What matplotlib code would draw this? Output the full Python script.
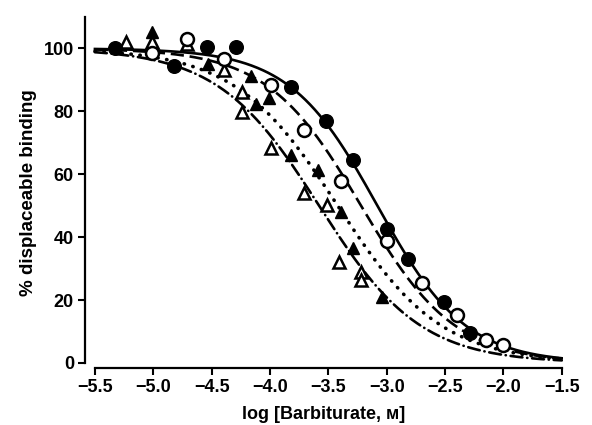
import numpy as np
import matplotlib
matplotlib.use("Agg")
import matplotlib.pyplot as plt

plt.rcParams['font.family'] = ['Liberation Sans', 'DejaVu Sans']

# ---- data ----
fc_x = [-5.33, -4.82, -4.54, -4.29, -3.82, -3.52, -3.29, -3.00, -2.82, -2.51, -2.29]
fc_y = [100.3, 94.3, 100.6, 100.6, 87.6, 76.8, 64.6, 42.7, 33.1, 19.4, 9.6]

oc_x = [-5.01, -4.71, -4.39, -3.99, -3.71, -3.39, -3.00, -2.70, -2.40, -2.15, -2.00]
oc_y = [98.7, 102.9, 96.5, 88.5, 74.2, 58.0, 38.9, 25.5, 15.3, 7.3, 5.7]

ft_x = [-5.01, -4.53, -4.16, -4.12, -4.01, -3.82, -3.59, -3.39, -3.29, -3.04]
ft_y = [105.1, 95.2, 91.2, 82.2, 84.4, 66.2, 61.5, 48.1, 36.6, 21.0]

ot_x = [-5.23, -5.01, -4.71, -4.39, -4.24, -4.24, -3.99, -3.71, -3.51, -3.41, -3.22, -3.22]
ot_y = [101.9, 101.9, 101.3, 93.3, 86.0, 79.9, 68.5, 54.1, 50.3, 32.2, 29.0, 26.4]

# fitted curve parameters (log IC50, Hill slope)
curve_ic50 = [-3.08, -3.22, -3.42, -3.58]
curve_hill = [1.15, 1.08, 0.98, 1.0]

xticks = [-5.5, -5.0, -4.5, -4.0, -3.5, -3.0, -2.5, -2.0, -1.5]
yticks = [0, 20, 40, 60, 80, 100]

fig = plt.figure(figsize=(5.92, 4.25), dpi=100)
ax = fig.add_axes([85/592, 1-368/425, (563-85)/592, (368-17)/425])

xs = np.linspace(-5.5, -1.5, 400)
styles = [dict(ls='-', lw=1.9),
          dict(ls=(0, (5, 2.2)), lw=1.9),
          dict(ls=(0, (0.1, 2.4)), lw=2.6, dash_capstyle='round'),
          dict(ls=(0, (4.5, 1.8, 0.1, 1.8)), lw=1.9, dash_capstyle='round')]
for ic, h, st in zip(curve_ic50, curve_hill, styles):
    ys = 100.0 / (1 + 10 ** (h * (xs - ic)))
    ax.plot(xs, ys, color='black', zorder=2, **st)

ax.plot(ot_x, ot_y, ls='none', marker='^', ms=8, mfc='white', mec='black', mew=1.8, zorder=3)
ax.plot(ft_x, ft_y, ls='none', marker='^', ms=8.5, mfc='black', mec='black', mew=1, zorder=3)
ax.plot(oc_x, oc_y, ls='none', marker='o', ms=9.3, mfc='white', mec='black', mew=1.8, zorder=4)
ax.plot(fc_x, fc_y, ls='none', marker='o', ms=9.8, mfc='black', mec='black', mew=1, zorder=4)

ax.set_xlim(-5.585, -1.49)
ax.set_ylim(-1.6, 110)
for s in ['top', 'right']:
    ax.spines[s].set_visible(False)
ax.spines['left'].set_bounds(0, 110)
ax.spines['bottom'].set_bounds(-5.5, -1.5)
for s in ['left', 'bottom']:
    ax.spines[s].set_linewidth(1.6)

ax.set_xticks(xticks)
ax.set_xticklabels(['\u2212%.1f' % abs(t) for t in xticks])
ax.set_yticks(yticks)
ax.tick_params(direction='out', length=5, width=1.5, labelsize=13, pad=3)
for lab in ax.get_xticklabels() + ax.get_yticklabels():
    lab.set_fontweight('bold')

ax.set_xlabel('log [Barbiturate, м]', fontsize=13, fontweight='bold', labelpad=7)
ax.set_ylabel('% displaceable binding', fontsize=13.5, fontweight='bold', labelpad=5)

fig.savefig('out.png', dpi=100)
